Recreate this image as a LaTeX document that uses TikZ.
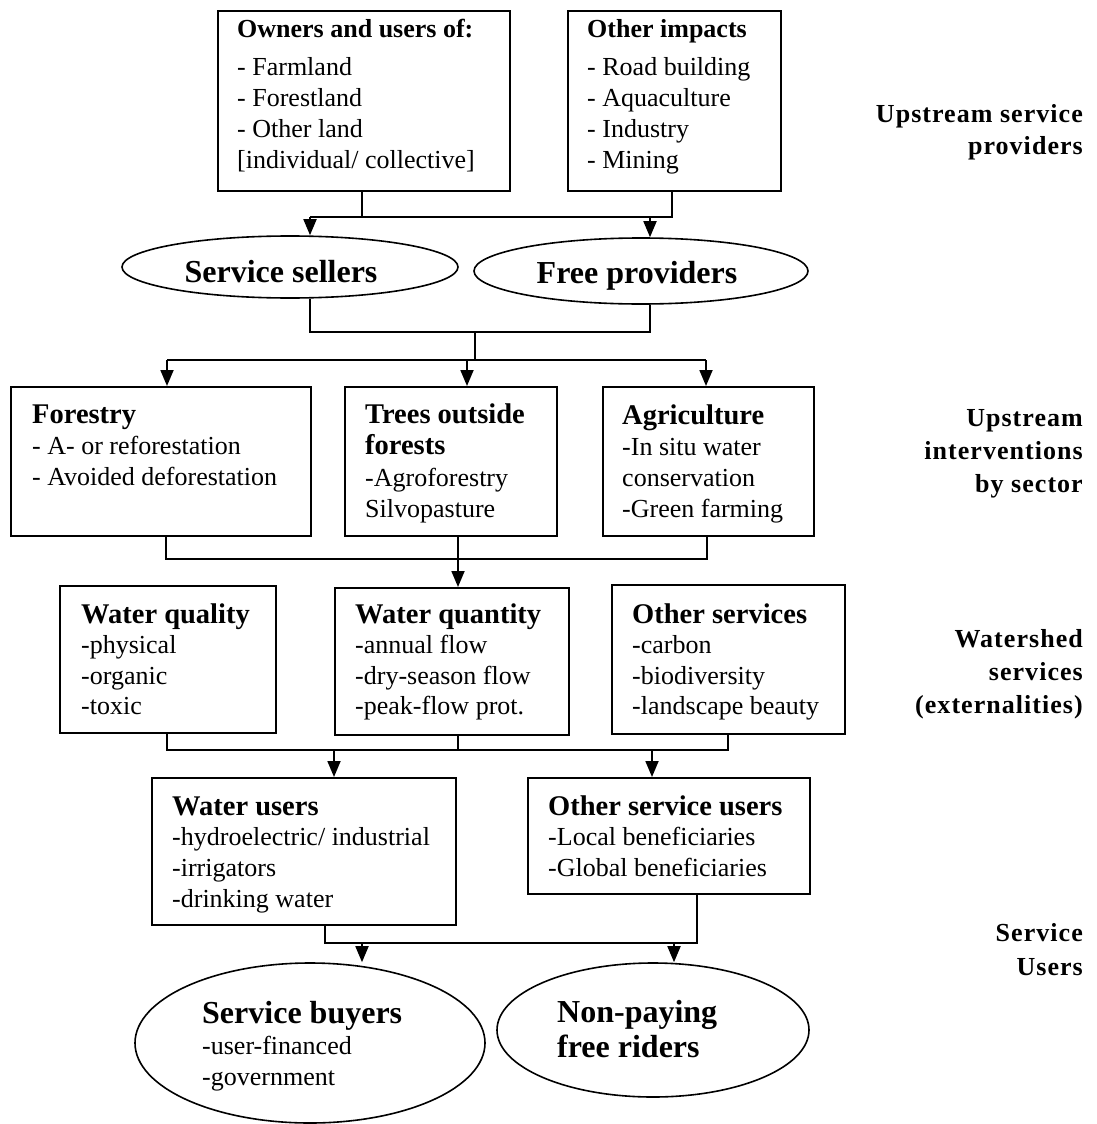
\documentclass[tikz,border=0pt]{standalone}
\usepackage{fontspec}
\setmainfont{Liberation Serif}
\usetikzlibrary{arrows.meta,shapes.geometric}
\newcommand\lns[2]{\vtop{\baselineskip=#1pt\lineskiplimit=-100pt\halign{##\hfil\cr#2\crcr}}}
\newcommand\rlns[2]{\vtop{\baselineskip=#1pt\lineskiplimit=-100pt\halign{\hfil##\cr#2\crcr}}}
\newcommand\ttl[1]{{\fontsize{28.5}{30}\selectfont\bfseries #1}}
\newcommand\bigttl[1]{{\fontsize{32}{34}\selectfont\bfseries #1}}
\begin{document}
\begin{tikzpicture}[x=1pt,y=-1pt,
  box/.style={draw, line width=1.6pt, rectangle, inner sep=0pt, anchor=north west},
  oval/.style={draw, line width=1.6pt, ellipse, inner sep=0pt},
  txt/.style={anchor=base west, inner sep=0pt, font=\fontsize{26}{30}\selectfont},
  ctxt/.style={anchor=base, inner sep=0pt},
  lab/.style={anchor=base east, inner sep=0pt, font=\fontsize{26}{30}\selectfont\bfseries\addfontfeatures{LetterSpace=4}},
  conn/.style={line width=1.8pt},
  arr/.style={conn, -{Triangle[width=13pt,length=16pt]}}]
\useasboundingbox (0,0) rectangle (1096,1124);

% ---- boxes and ovals
\node[box, minimum width=292, minimum height=180] (own) at (217,10) {};
\node[box, minimum width=213, minimum height=180] (oth) at (567,10) {};
\node[oval, minimum width=336, minimum height=62] (sellers) at (290,267) {};
\node[oval, minimum width=334, minimum height=66] (free) at (641,271) {};
\node[box, minimum width=300, minimum height=149] (forestry) at (10,386) {};
\node[box, minimum width=212, minimum height=149] (trees) at (344,386) {};
\node[box, minimum width=211, minimum height=149] (agri) at (602,386) {};
\node[box, minimum width=216, minimum height=147] (wqual) at (59,585) {};
\node[box, minimum width=234, minimum height=147] (wquan) at (334,587) {};
\node[box, minimum width=233, minimum height=149] (osvc) at (611,584) {};
\node[box, minimum width=304, minimum height=147] (wusers) at (151,777) {};
\node[box, minimum width=282, minimum height=116] (ousers) at (527,777) {};
\node[oval, minimum width=350, minimum height=160] (buyers) at (310,1043) {};
\node[oval, minimum width=312, minimum height=134] (nonpay) at (653,1030) {};

% ---- texts
\node[txt] (ownt) at (237,38) {\lns{30.7}{\textbf{Owners and users of:}\cr\noalign{\vskip7.3pt}- Farmland\cr - Forestland\cr - Other land\cr [individual/ collective]}};
\node[txt] (otht) at (587,38) {\lns{30.7}{\textbf{Other impacts}\cr\noalign{\vskip7.3pt}- Road building\cr - Aquaculture\cr - Industry\cr - Mining}};
\node[ctxt] (sellerst) at (281,282) {\bigttl{Service sellers}};
\node[ctxt] (freet) at (637,283) {\bigttl{Free providers}};
\node[txt] (forestryt) at (32,423) {\lns{31}{\ttl{Forestry}\cr - A- or reforestation\cr - Avoided deforestation}};
\node[txt] (treest) at (365,423) {\lns{31.5}{\ttl{Trees outside}\cr \ttl{forests}\cr -Agroforestry\cr Silvopasture}};
\node[txt] (agrit) at (622,424) {\lns{31}{\ttl{Agriculture}\cr -In situ water\cr conservation\cr -Green farming}};
\node[txt] (wqualt) at (81,623) {\lns{30.5}{\ttl{Water quality}\cr -physical\cr -organic\cr -toxic}};
\node[txt] (wquant) at (355,623) {\lns{30.5}{\ttl{Water quantity}\cr -annual flow\cr -dry-season flow\cr -peak-flow prot.}};
\node[txt] (osvct) at (632,623) {\lns{30.5}{\ttl{Other services}\cr -carbon\cr -biodiversity\cr -landscape beauty}};
\node[txt] (wuserst) at (172,815) {\lns{30.7}{\ttl{Water users}\cr -hydroelectric/ industrial\cr -irrigators\cr -drinking water}};
\node[txt] (ouserst) at (548,815) {\lns{30.5}{\ttl{Other service users}\cr -Local beneficiaries\cr -Global beneficiaries}};
\node[txt] (buyerst) at (202,1023) {\lns{31}{\bigttl{Service buyers}\cr -user-financed\cr -government}};
\node[txt] (nonpayt) at (557,1022) {\lns{35}{\bigttl{Non-paying}\cr \bigttl{free riders}}};

% ---- side labels
\node[lab] (lab1) at (1083,122) {\rlns{32}{Upstream service\cr providers}};
\node[lab] (lab2) at (1083,426) {\rlns{33}{Upstream\cr interventions\cr by sector}};
\node[lab] (lab3) at (1083,647) {\rlns{33}{Watershed\cr services\cr (externalities)}};
\node[lab] (lab4) at (1083,941) {\rlns{34}{Service\cr Users}};

% ---- connectors: providers -> sellers / free
\coordinate (jA) at (362,217);
\coordinate (jB) at (672,217);
\coordinate (aS) at (310,217);
\coordinate (aF) at (650,217);
\draw[conn] (own.south -| jA) -- (jA) -- (jB) -- (oth.south -| jB);
\draw[conn] (aS) -- (jA);
\draw[arr] (aS) -- (aS |- sellers.north);
\draw[arr] (aF) -- (aF |- free.north);

% ---- sellers / free -> sectors
\coordinate (m1) at (310,332);
\coordinate (m2) at (650,332);
\coordinate (m3) at (475,332);
\coordinate (m4) at (475,360);
\coordinate (r1) at (167,360);
\coordinate (r2) at (467,360);
\coordinate (r3) at (706,360);
\draw[conn] (sellers.south -| m1) -- (m1) -- (m2) -- (free.south -| m2);
\draw[conn] (m3) -- (m4);
\draw[conn] (r1) -- (r3);
\draw[arr] (r1) -- (r1 |- forestry.north);
\draw[arr] (r2) -- (r2 |- trees.north);
\draw[arr] (r3) -- (r3 |- agri.north);

% ---- sectors -> services
\coordinate (s1) at (166,559);
\coordinate (s2) at (458,559);
\coordinate (s3) at (707,559);
\draw[conn] (forestry.south -| s1) -- (s1) -- (s3) -- (agri.south -| s3);
\draw[conn] (trees.south -| s2) -- (s2);
\draw[arr] (s2) -- (s2 |- wquan.north);

% ---- services -> users
\coordinate (u1) at (167,750);
\coordinate (u2) at (458,750);
\coordinate (u3) at (728,750);
\coordinate (v1) at (334,750);
\coordinate (v2) at (652,750);
\draw[conn] (wqual.south -| u1) -- (u1) -- (u3) -- (osvc.south -| u3);
\draw[conn] (wquan.south -| u2) -- (u2);
\draw[arr] (v1) -- (v1 |- wusers.north);
\draw[arr] (v2) -- (v2 |- ousers.north);

% ---- users -> buyers / free riders
\coordinate (w1) at (325,943);
\coordinate (w2) at (697,943);
\coordinate (x1) at (362,943);
\coordinate (x2) at (674,943);
\draw[conn] (wusers.south -| w1) -- (w1) -- (w2) -- (ousers.south -| w2);
\draw[arr] (x1) -- (x1 |- buyers.north);
\draw[arr] (x2) -- (x2 |- nonpay.north);
\end{tikzpicture}
\end{document}
